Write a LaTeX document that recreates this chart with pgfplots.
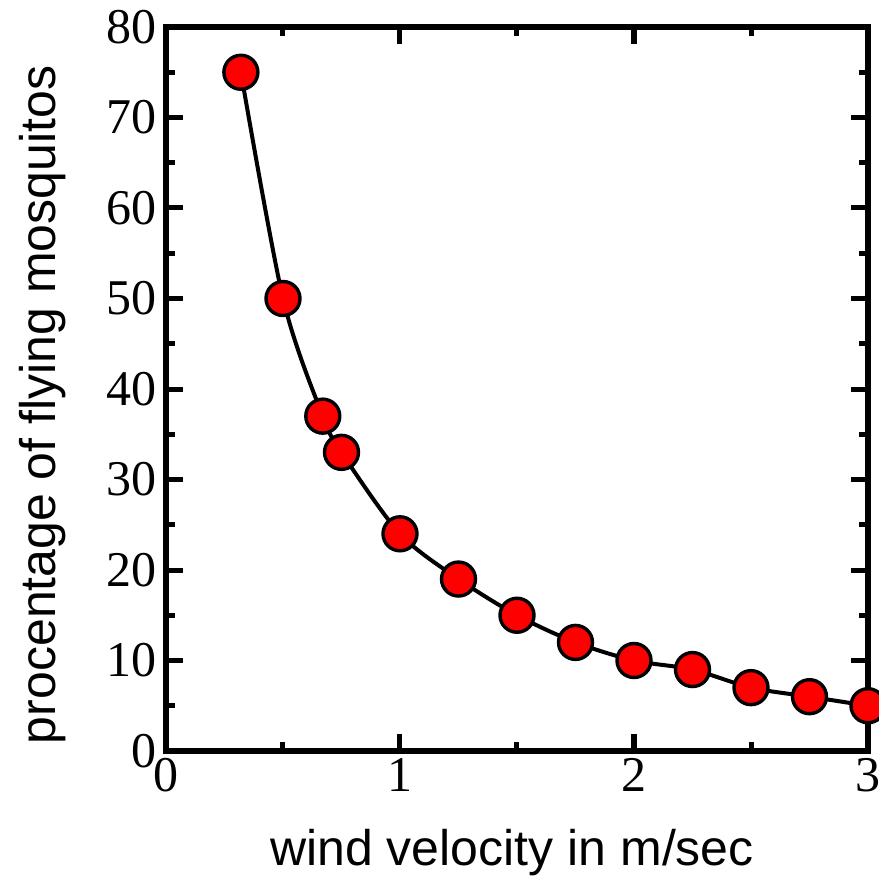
\documentclass[border=0pt]{standalone}
\usepackage{fontspec}
\setmainfont{Liberation Serif}
\newfontfamily\labelfont{Liberation Sans}
\usepackage{pgfplots}
\pgfplotsset{compat=1.18}
\begin{document}
\begin{tikzpicture}
\begin{axis}[
  name=a,
  scale only axis,
  width=351bp, height=362bp,
  xmin=0, xmax=3, ymin=0, ymax=80,
  xtick={0,1,2,3}, ytick={0,10,...,80},
  minor x tick num=1, minor y tick num=1,
  tick align=inside,
  major tick length=8.5bp, minor tick length=4.5bp,
  every tick/.style={line width=2.5bp, black},
  axis line style={line width=3.2bp},
  /pgf/number format/assume math mode=true,
  ticklabel style={font=\fontsize{25bp}{30bp}\selectfont},
  yticklabel style={xshift=-1bp},
  xlabel={wind velocity in m/sec},
  ylabel={procentage of flying mosquitos},
  label style={font=\labelfont\fontsize{25bp}{30bp}\selectfont},
  xlabel style={at={(axis description cs:0.493,-0.1575)}, anchor=base},
  ylabel style={at={(axis description cs:-0.158,0.478)}, anchor=base},
  axis on top,
  clip=false,
]
\addplot[black, line width=2bp, smooth, mark=*, mark size=8.5bp,
  mark options={fill=red, draw=black, line width=1.7bp}]
  coordinates {
  (0.32,75) (0.5,50) (0.67,37) (0.75,33) (1,24) (1.25,19) (1.5,15)
  (1.75,12) (2,10) (2.25,9) (2.5,7) (2.75,6) (3,5)
  };
\end{axis}
\pgfresetboundingbox
\path ([shift={(-83bp,-64.5bp)}]a.south west) rectangle ([shift={(5.5bp,13.5bp)}]a.north east);
\end{tikzpicture}
\end{document}
